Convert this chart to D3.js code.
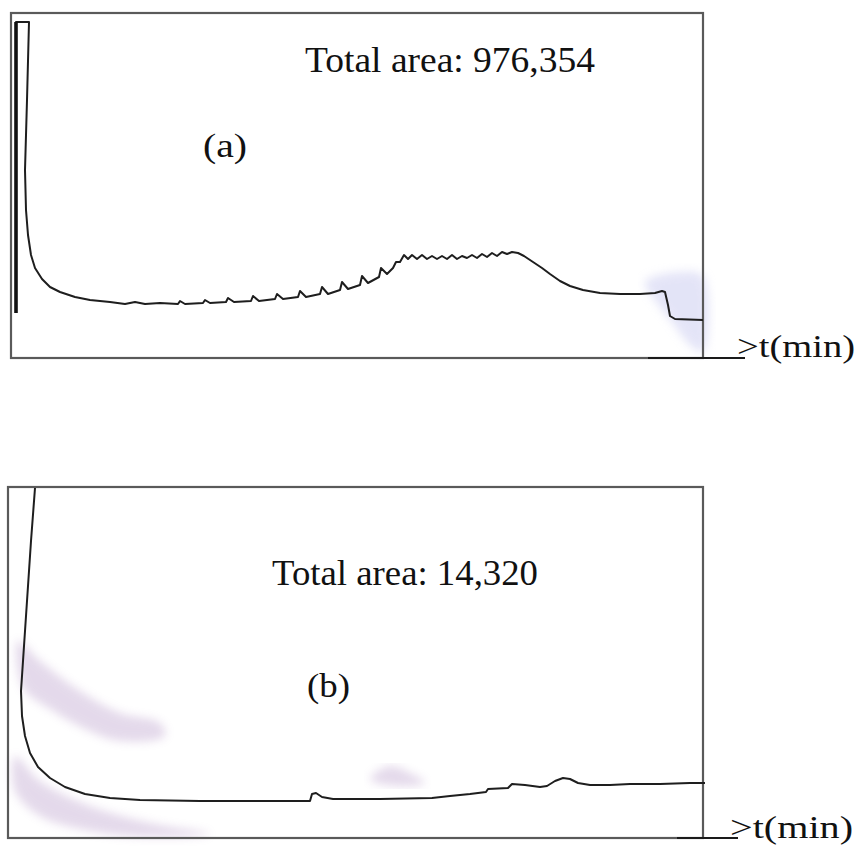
<!DOCTYPE html>
<html lang="en">
<head>
    <meta charset="UTF-8">
    <title>Chromatograms (a) and (b)</title>
    <script src="https://d3js.org/d3.v7.min.js"></script>
    <style>
        body { margin: 0; background: #fff; }
        text { font-family: "Liberation Serif", "Times New Roman", serif; fill: #111; }
    </style>
</head>
<body>
    <svg width="855" height="853"></svg>

    <script>
        // Trace (a): time (min, arbitrary origin) and detector signal
        const timeA = [0.5, 0.5, 1.8, 1.6, 1.4, 1.5, 1.7, 2.0, 2.4, 3.1, 3.9, 4.9, 6.4, 7.9, 9.9,
            11.4, 12.4, 13.4, 14.9,
            16.7, 16.9, 17.4, 19.2, 19.4, 19.9, 21.5, 21.7, 22.3, 24.0, 24.2, 24.8,
            26.4, 26.6, 27.2, 28.7, 28.9, 29.5, 30.9, 31.1, 31.7, 32.9, 33.1, 33.7,
            34.9, 35.1, 35.7, 36.8, 37.0, 37.6, 38.2, 38.5, 38.9,
            39.3, 39.7, 40.1, 40.6, 41.1, 41.6, 42.1, 42.6, 43.1, 43.6, 44.1, 44.6,
            45.1, 45.6, 46.1, 46.6, 47.1, 47.6, 48.1, 48.6, 49.1, 49.6, 50.1, 50.7,
            51.3, 52.2, 53.1, 53.9, 54.9, 55.9, 57.2, 58.9, 60.9, 62.9, 64.4, 65.1,
            65.4, 65.7, 65.9, 66.4, 69.2];
        const signalA = [4.5, 33.6, 33.6, 25.8, 18.8, 14.8, 12.3, 10.3, 9.0, 7.9, 7.1, 6.6, 6.1, 5.8, 5.6,
            5.4, 5.6, 5.4, 5.5,
            5.4, 5.7, 5.4, 5.5, 5.8, 5.5, 5.6, 6.0, 5.6, 5.7, 6.2, 5.7,
            5.9, 6.4, 5.9, 6.1, 6.7, 6.1, 6.4, 7.1, 6.4, 6.8, 7.6, 6.9,
            7.3, 8.2, 7.5, 8.1, 9.0, 8.4, 9.0, 9.6, 9.6,
            10.3, 9.9, 10.3, 9.9, 10.3, 9.9, 10.2, 9.9, 10.2, 9.9, 10.3, 9.9,
            10.2, 10.0, 10.3, 10.0, 10.4, 10.1, 10.5, 10.2, 10.6, 10.4, 10.6, 10.5,
            10.2, 9.6, 9.0, 8.4, 7.7, 7.2, 6.8, 6.5, 6.4, 6.4, 6.5, 6.7,
            6.6, 5.3, 4.2, 3.9, 3.8];

        // Trace (b)
        const timeB = [2.7, 2.3, 1.9, 1.5, 1.3, 1.4, 1.7, 2.2, 3.0, 4.2, 5.7, 7.7, 10.2, 13.2, 19.2,
            25.2, 30.2, 30.4, 30.8, 31.4, 32.5, 37.2, 42.4, 44.2, 46.2, 47.8, 48.0,
            50.0, 50.4, 51.7, 53.2, 53.9, 54.7, 55.5, 56.2, 57.0, 58.2, 60.2, 62.2,
            65.2, 68.2, 69.7];
        const signalB = [35.0, 29.7, 23.7, 17.7, 14.7, 12.2, 10.2, 8.5, 7.1, 6.0, 5.1, 4.4, 4.0, 3.8, 3.7,
            3.7, 3.7, 4.4, 4.5, 4.1, 3.9, 3.9, 4.0, 4.2, 4.4, 4.6, 4.9,
            5.0, 5.4, 5.3, 5.1, 5.2, 5.7, 6.0, 5.9, 5.5, 5.3, 5.3, 5.4,
            5.4, 5.5, 5.5];

        // faint stains on the scanned traces
        const stainA = [[63.4, 7.6], [66.9, 8.6], [69.2, 8.2], [69.2, 0.6], [67.9, 1.3], [66.1, 3.6], [64.4, 5.8]];
        const stainB1 = [[1.0, 19.7], [3.2, 17.7], [7.2, 14.7], [11.2, 12.5], [15.2, 11.5], [15.7, 10.2],
            [11.2, 9.7], [7.7, 10.9], [4.2, 12.9], [1.7, 14.7], [1.0, 16.7]];
        const stainB2 = [[0.7, 8.2], [3.2, 5.7], [8.2, 3.2], [14.2, 1.5], [20.2, 0.4], [14.2, 0.1],
            [8.2, 0.7], [3.2, 2.2], [0.7, 4.7]];
        const stainB3 = [[36.2, 5.9], [38.2, 7.2], [40.2, 6.5], [41.7, 5.5], [38.7, 5.2]];

        const panelLabels = ["(a)", "(b)"];
        const areaLabels = ["Total area: 976,354", "Total area: 14,320"];
        const axisLabel = ">t(min)";

        const svg = d3.select("svg");
        const defs = svg.append("defs");
        defs.append("filter").attr("id", "blur")
            .append("feGaussianBlur").attr("stdDeviation", 5);

        const panels = [
            {
                t: timeA, s: signalA, stains: [stainA], stainColor: "#c9caf0", stainOpacity: 0.5,
                box: { x0: 11, x1: 703, y0: 13, y1: 358 }, xDomain: [0, 69.2], yDomain: [0, 34.5],
                label: panelLabels[0], labelPos: [203, 157, 44],
                area: areaLabels[0], areaPos: [305, 72, 290],
                axisPos: [737, 357, 118], darkFrom: 648, spikeEdge: true
            },
            {
                t: timeB, s: signalB, stains: [stainB1, stainB2, stainB3], stainColor: "#a07ab8", stainOpacity: 0.28,
                box: { x0: 8, x1: 703, y0: 487, y1: 838 }, xDomain: [0, 69.5], yDomain: [0, 35.1],
                label: panelLabels[1], labelPos: [307, 697, 43],
                area: areaLabels[1], areaPos: [272, 585, 266],
                axisPos: [730, 838, 123], darkFrom: 677, spikeEdge: false
            }
        ];

        panels.forEach(p => {
            const b = p.box;
            const x = d3.scaleLinear().domain(p.xDomain).range([b.x0, b.x1]);
            const y = d3.scaleLinear().domain(p.yDomain).range([b.y1, b.y0]);
            const g = svg.append("g");

            // stains
            g.selectAll("path.stain")
                .data(p.stains)
                .join("path")
                .attr("class", "stain")
                .attr("d", d => d3.line().x(v => x(v[0])).y(v => y(v[1])).curve(d3.curveCatmullRomClosed)(d))
                .attr("fill", p.stainColor)
                .attr("opacity", p.stainOpacity)
                .attr("filter", "url(#blur)");

            // frame
            g.append("rect")
                .attr("x", b.x0).attr("y", b.y0)
                .attr("width", b.x1 - b.x0).attr("height", b.y1 - b.y0)
                .attr("fill", "none")
                .attr("stroke", "#5a5a5a")
                .attr("stroke-width", 2.2);

            // trace
            const pts = p.t.map((t, i) => [t, p.s[i]]);
            g.append("path")
                .datum(pts)
                .attr("d", d3.line().x(d => x(d[0])).y(d => y(d[1])))
                .attr("fill", "none")
                .attr("stroke", "#1e1e1e")
                .attr("stroke-width", 2)
                .attr("stroke-linejoin", "round");

            if (p.spikeEdge) {
                g.append("line")
                    .attr("x1", x(pts[0][0])).attr("y1", y(pts[0][1]))
                    .attr("x2", x(pts[1][0])).attr("y2", y(pts[1][1]))
                    .attr("stroke", "#111")
                    .attr("stroke-width", 3.6);
            }

            // time axis arrow
            g.append("line")
                .attr("x1", p.darkFrom).attr("y1", b.y1)
                .attr("x2", p.axisPos[0] + 8).attr("y2", b.y1)
                .attr("stroke", "#1a1a1a")
                .attr("stroke-width", 2);

            g.append("text")
                .attr("x", p.axisPos[0]).attr("y", p.axisPos[1])
                .attr("textLength", p.axisPos[2])
                .attr("lengthAdjust", "spacingAndGlyphs")
                .style("font-size", "31px")
                .text(axisLabel);

            g.append("text")
                .attr("x", p.areaPos[0]).attr("y", p.areaPos[1])
                .attr("textLength", p.areaPos[2])
                .attr("lengthAdjust", "spacingAndGlyphs")
                .style("font-size", "36px")
                .text(p.area);

            g.append("text")
                .attr("x", p.labelPos[0]).attr("y", p.labelPos[1])
                .attr("textLength", p.labelPos[2])
                .attr("lengthAdjust", "spacingAndGlyphs")
                .style("font-size", "34px")
                .text(p.label);
        });
    </script>
</body>
</html>
